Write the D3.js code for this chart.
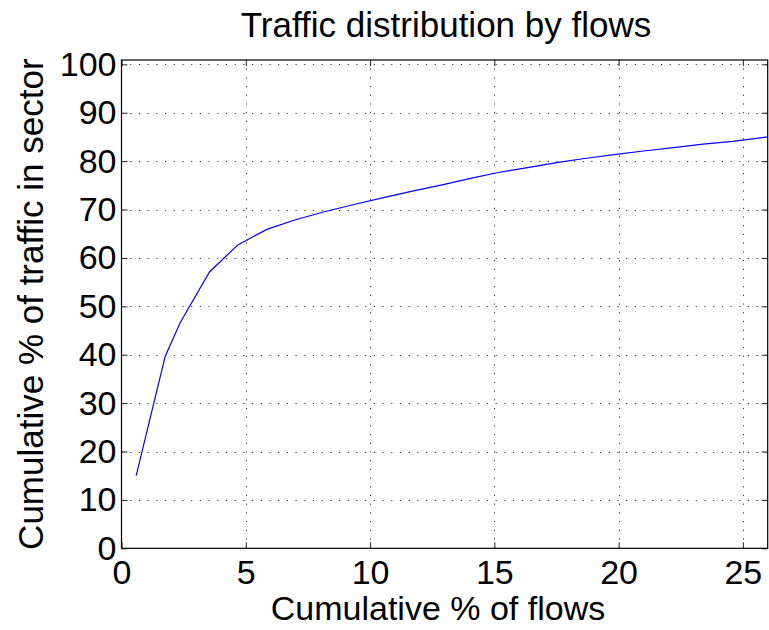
<!DOCTYPE html>
<html>
<head>
<meta charset="utf-8">
<script src="https://cdn.jsdelivr.net/npm/d3@7"></script>
<style>
  html, body { margin: 0; padding: 0; background: #fff; }
  svg { display: block; }
  text { font-family: "Liberation Sans", Arial, Helvetica, sans-serif; fill: #000; }
</style>
</head>
<body>
<svg id="chart" width="769" height="630"></svg>
<script>
const flowsPct = [0.59, 1.76, 2.36, 3.54, 4.68, 5.85, 7.0, 8.2, 9.4, 10.5, 11.7, 12.9, 14.0, 15.2, 16.4, 17.5, 18.7, 19.9, 21.0, 22.2, 23.4, 24.6, 25.7, 26.0];
const trafficPct = [15.0, 39.7, 46.6, 57.1, 62.7, 65.9, 67.9, 69.6, 71.1, 72.4, 73.8, 75.1, 76.4, 77.7, 78.7, 79.7, 80.6, 81.4, 82.1, 82.8, 83.5, 84.1, 84.8, 85.0];
const xTicks = [0, 5, 10, 15, 20, 25];
const yTicks = [0, 10, 20, 30, 40, 50, 60, 70, 80, 90, 100];
const titleText = "Traffic distribution by flows";
const xLabel = "Cumulative % of flows";
const yLabel = "Cumulative % of traffic in sector";

const svg = d3.select("#chart");
const L = 121.5, R = 767.7, T = 60, B = 548.3;
const fs = 34;

const x = d3.scaleLinear().domain([0, 26]).range([L, R]);
const y = d3.scaleLinear().domain([0, 100.9]).range([B, T]);

// grid
const grid = svg.append("g").attr("stroke", "#333").attr("stroke-width", 1).attr("stroke-dasharray", "1.2,7.5");
grid.selectAll("line.vx").data(xTicks.filter(d => d > 0)).join("line")
  .attr("x1", d => Math.round(x(d)) + 0.5).attr("x2", d => Math.round(x(d)) + 0.5)
  .attr("y1", B).attr("y2", T);
grid.selectAll("line.hy").data(yTicks.filter(d => d > 0)).join("line")
  .attr("y1", d => Math.round(y(d)) + 0.5).attr("y2", d => Math.round(y(d)) + 0.5)
  .attr("x1", L).attr("x2", R);

// axes
function styleAxis(g) {
  g.select(".domain").remove();
  g.selectAll(".tick line").attr("stroke", "#222");
  g.selectAll(".tick text").style("font-size", fs + "px").style("font-family", '"Liberation Sans", Arial, sans-serif').attr("fill", "#000");
}
svg.append("g").attr("transform", `translate(0,${B})`)
  .call(d3.axisBottom(x).tickValues(xTicks).tickFormat(d3.format("d")).tickSizeInner(-6).tickSizeOuter(0).tickPadding(12))
  .call(styleAxis);
svg.append("g").attr("transform", `translate(${L},0)`)
  .call(d3.axisLeft(y).tickValues(yTicks).tickFormat(d3.format("d")).tickSizeInner(-6).tickSizeOuter(0).tickPadding(5))
  .call(styleAxis);
// top and right ticks (no labels)
svg.append("g").attr("transform", `translate(0,${T})`)
  .call(d3.axisTop(x).tickValues(xTicks).tickFormat("").tickSizeInner(-6).tickSizeOuter(0))
  .call(styleAxis);
svg.append("g").attr("transform", `translate(${R},0)`)
  .call(d3.axisRight(y).tickValues(yTicks).tickFormat("").tickSizeInner(-6).tickSizeOuter(0))
  .call(styleAxis);

// frame
svg.append("rect").attr("x", L).attr("y", T).attr("width", R - L).attr("height", B - T)
  .attr("fill", "none").attr("stroke", "#000").attr("stroke-width", 1.2);

// line
const line = d3.line().x((d, i) => x(flowsPct[i])).y(d => y(d));
svg.append("path").datum(trafficPct).attr("d", line)
  .attr("fill", "none").attr("stroke", "#0000ff").attr("stroke-width", 1.2);

// title and labels
svg.append("text").attr("x", 446).attr("y", 37).attr("text-anchor", "middle")
  .style("font-size", "35px").text(titleText);
svg.append("text").attr("x", 438).attr("y", 620).attr("text-anchor", "middle")
  .style("font-size", fs + "px").text(xLabel);
svg.append("text").attr("transform", `translate(43,${(T + B) / 2}) rotate(-90)`).attr("text-anchor", "middle")
  .style("font-size", "35px").text(yLabel);
</script>
</body>
</html>
